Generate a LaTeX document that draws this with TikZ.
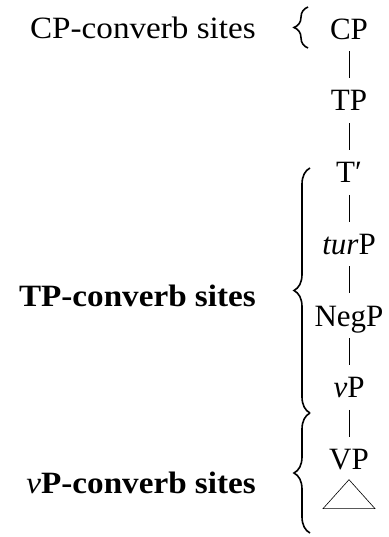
\documentclass[tikz,border=0pt]{standalone}
\usepackage{fontspec}
\setmainfont{Liberation Serif}
\newfontfamily\labfont[FakeStretch=1.07]{Liberation Serif}
\usetikzlibrary{decorations.pathreplacing}
\begin{document}
\begin{tikzpicture}[x=1pt,y=1pt,
  cat/.style={inner sep=0pt, text height=20.5pt, text depth=0pt, font=\fontsize{31}{36}\selectfont},
  lab/.style={anchor=east, inner sep=0pt, text height=20.5pt, text depth=0pt, font=\labfont\fontsize{31}{36}\selectfont},
  edge/.style={line width=0.6pt, shorten <=12pt, shorten >=12pt},
  bracelike/.style={decorate, decoration={brace, amplitude=#1}, line width=1.6pt},
]
\useasboundingbox (0,0) rectangle (388,-537);
% tree
\node[cat] (cp) at (349,-29) {CP};
\node[cat] (tp) at (349,-100.7) {TP};
\node[cat] (tbar) at (349,-172.4) {T′};
\node[cat] (turp) at (349,-244) {\textit{tur}P};
\node[cat] (negp) at (349,-315.8) {NegP};
\node[cat] (vp) at (349,-387.5) {\textit{v}P};
\node[cat] (bigvp) at (349,-459.2) {VP};
\draw[edge] (cp) -- (tp);
\draw[edge] (tp) -- (tbar);
\draw[edge] (tbar) -- (turp);
\draw[edge] (turp) -- (negp);
\draw[edge] (negp) -- (vp);
\draw[edge] (vp) -- (bigvp);
\draw[line width=0.6pt] ([yshift=-10pt]bigvp.south) coordinate (apex) -- ++(-26,-29) -- ++(52,0) -- cycle;
% braces
\coordinate (cpB) at (308,-48);
\coordinate (cpT) at (308,-7);
\coordinate (tpB) at (310,-413);
\coordinate (tpT) at (310,-168);
\coordinate (vpB) at (310,-533);
\coordinate (vpT) at (310,-413);
\draw[bracelike=14pt] (cpB) -- (cpT);
\draw[bracelike=16pt] (tpB) -- (tpT);
\draw[bracelike=16pt] (vpB) -- (vpT);
% labels
\node[lab] (cplab) at (256,-28) {CP-converb sites};
\node[lab] (tplab) at (256,-296) {\textbf{TP-converb sites}};
\node[lab] (vplab) at (256,-483) {\textit{v}\textbf{P-converb sites}};
\end{tikzpicture}
\end{document}
